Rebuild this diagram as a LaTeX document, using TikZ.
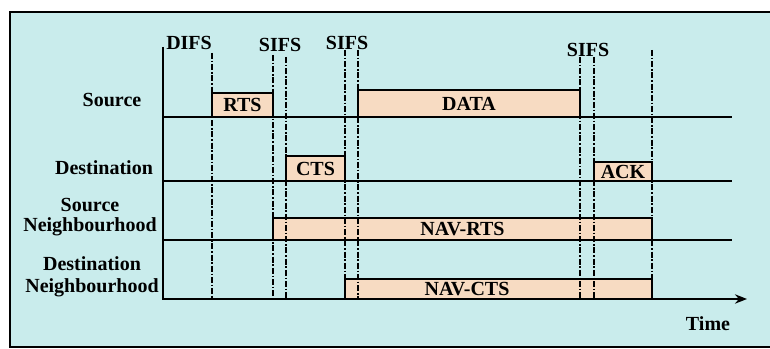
\documentclass[tikz,border=0pt]{standalone}
\usepackage{fontspec}
\setmainfont{Liberation Serif}
\usetikzlibrary{arrows.meta,fit}
\definecolor{bgcyan}{HTML}{C9ECEC}
\definecolor{peach}{HTML}{F7DBC2}
\tikzset{
  slot/.style={draw, fill=peach, line width=1.1pt, inner sep=0pt},
  tag/.style={font=\fontsize{15}{16.5}\selectfont\bfseries, inner sep=0pt, align=center},
  ifs/.style={line width=1.8pt, dash pattern=on 4.5pt off 1.3pt on 1.3pt off 1.3pt},
  row/.style={line width=1.1pt}
}
\begin{document}
\begin{tikzpicture}[x=0.75pt, y=-0.75pt]
\useasboundingbox (0,0) rectangle (770,349);
\fill[bgcyan] (10,12) rectangle (770,347);
\draw[line width=1.5pt] (770,12) -- (10,12) -- (10,347) -- (770,347);
% time axis and rows
\coordinate (top) at (163,47);
\coordinate (origin) at (163,299);
\coordinate (tend) at (747,299);
\draw[row] (163,117) -- (732,117);
\draw[row] (163,181) -- (732,181);
\draw[row] (163,240) -- (732,240);
% frames
\node[slot, fit={(212,93) (273,117)}] (rts) {};
\node[slot, fit={(358,90) (580,117)}] (data) {};
\node[slot, fit={(286,156) (345,181)}] (cts) {};
\node[slot, fit={(594,162) (652,181)}] (ack) {};
\node[slot, fit={(273,218) (652,240)}] (navrts) {};
\node[slot, fit={(345,279) (652,299)}] (navcts) {};
\node[tag] (rtstext) at (rts.center) {RTS};
\node[tag] (datatext) at (data.center) {DATA};
\node[tag] (ctstext) at (cts.center) {CTS};
\node[tag] (acktext) at (ack.center) {ACK};
\node[tag] (navrtstext) at (navrts.center) {NAV-RTS};
\node[tag] (navctstext) at (467,289) {NAV-CTS};
% interframe spaces
\draw[ifs] (212,53) -- (212,299);
\draw[ifs] (273,55) -- (273,299);
\draw[ifs] (286,57) -- (286,299);
\draw[ifs] (345,50) -- (345,299);
\draw[ifs] (358,50) -- (358,299);
\draw[ifs] (580,57) -- (580,299);
\draw[ifs] (594,57) -- (594,299);
\draw[ifs] (652,50) -- (652,299);
\draw[line width=2.2pt, -{Stealth[length=9pt,width=7pt]}] (top) -- (origin) -- (tend);
% labels
\node[tag, anchor=west] (difs) at (166,43) {DIFS};
\node[tag] (sifsa) at (280,45) {SIFS};
\node[tag] (sifsb) at (347,43) {SIFS};
\node[tag] (sifsc) at (588,50) {SIFS};
\node[tag] (src) at (112,100) {Source};
\node[tag] (dst) at (104,168) {Destination};
\node[tag] (srcnb) at (90,217) {Source\\[-1.5pt]Neighbourhood};
\node[tag] (dstnb) at (92,277) {Destination\\Neighbourhood};
\node[tag] (time) at (708,324) {Time};
\end{tikzpicture}
\end{document}
